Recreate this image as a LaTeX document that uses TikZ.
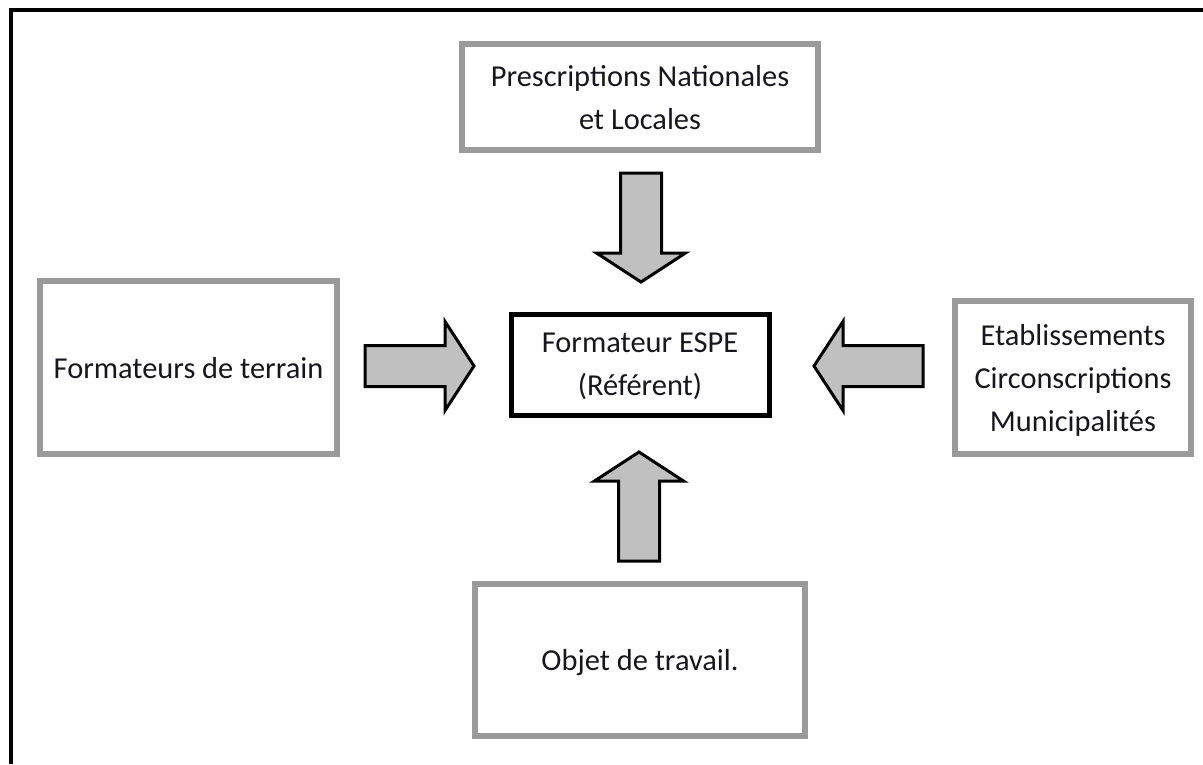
\documentclass[tikz,border=0pt]{standalone}
\usepackage{fontspec}
\setmainfont{Carlito}
\usepackage{xcolor}
\usepackage{tikz}
\usetikzlibrary{positioning}
\definecolor{textdark}{HTML}{16161C}
\definecolor{boxgray}{HTML}{9A9A9A}
\definecolor{arrowfill}{HTML}{C0C0C0}

\begin{document}
\begin{tikzpicture}[
      x=1pt, y=-1pt,
      src/.style={draw=boxgray, line width=6pt, align=center, text=textdark,
        font=\fontsize{30.4}{43}\selectfont, inner sep=0pt, text depth=0pt},
      ref/.style={draw=black, line width=5pt, align=center, text=textdark,
        font=\fontsize{30.4}{43}\selectfont, inner sep=0pt, text depth=0pt},
      blockarrow/.style={draw=black, fill=arrowfill, line width=3pt, line join=miter},
      frame/.style={draw=black, line width=4pt}]
    \useasboundingbox (0,0) rectangle (1203,764);
    \draw[frame] (1203,10) -| (11,764);
    % sources around the referent
    \node[ref, minimum width=258pt, minimum height=101pt] (espe) at (640,364.5)
      {Formateur ESPE\\(Référent)};
    \node[src, minimum width=356pt, minimum height=106pt] (presc) at (640,97)
      {Prescriptions Nationales\\et Locales};
    \node[src, minimum width=297pt, minimum height=173pt] (terrain) at (188.5,367.5)
      {Formateurs de terrain};
    \node[src, minimum width=236pt, minimum height=153pt] (etab) at (1073,377.5)
      {Etablissements\\Circonscriptions\\Municipalités};
    \node[src, minimum width=330pt, minimum height=152pt] (objet) at (640,660)
      {Objet de travail.};
    % block arrows, tip at (\x,\y)
    \foreach \name/\x/\y/\ang in {down/641/282/-90, right/474/366/0, left/814/366/180, up/639/452/90} {
      \coordinate (tip\name) at (\x,\y);
      \draw[blockarrow, shift={(tip\name)}, rotate=\ang]
        (0,0) -- (-29,-44.5) -- (-29,-20.5) -- (-109,-20.5)
        -- (-109,20.5) -- (-29,20.5) -- (-29,44.5) -- cycle;
    }
  \end{tikzpicture}
\end{document}
